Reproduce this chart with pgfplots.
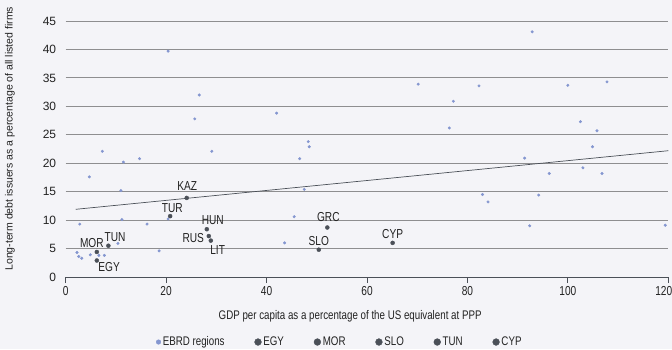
\documentclass[border=0pt]{standalone}
\usepackage{fontspec}
\setmainfont{Liberation Sans}
\newfontfamily\narrowfont{Liberation Sans}[FakeStretch=0.78]
\usepackage{pgfplots}
\pgfplotsset{compat=1.18}

\definecolor{bg}{HTML}{F4F4F8}
\definecolor{ebrd}{HTML}{8496D0}
\definecolor{dark}{HTML}{4B5058}
\definecolor{gridc}{HTML}{8E8E90}
\definecolor{txt}{HTML}{222222}

\pgfplotsset{
  ebrdpt/.style={only marks, mark=*, mark size=1.3pt, color=ebrd, forget plot},
  darkpt/.style={only marks, mark=*, mark size=2pt, color=dark, forget plot,
    nodes near coords, point meta=explicit symbolic,
    every node near coord/.append style={font=\narrowfont\fontsize{13}{14}\selectfont,
      text=txt, inner sep=0pt}},
}

\begin{document}
\begin{tikzpicture}
\fill[bg] (-65.7pt,-72pt) rectangle (606.3pt,277pt);
\begin{axis}[
  at={(0,0)}, anchor=south west,
  width=602.6pt, height=256pt, scale only axis,
  xmin=0, xmax=120, ymin=0, ymax=45,
  xtick={0,20,...,120}, ytick={0,5,...,45},
  xticklabels={0,20,40,60,80,100,{\kern-9pt 120}},
  axis lines*=left,
  x axis line style={-, draw=dark, line width=0.8pt},
  y axis line style={draw=none},
  tick align=outside, major tick length=6pt,
  xtick style={draw=dark, line width=0.8pt},
  ytick style={draw=none},
  ymajorgrids, grid style={draw=gridc, line width=0.8pt},
  /pgf/number format/assume math mode=true,
  tick label style={font=\fontsize{12}{14}\selectfont, text=txt},
  xticklabel style={font=\narrowfont\fontsize{13}{14}\selectfont},
  xlabel={GDP per capita as a percentage of the US equivalent at PPP},
  xlabel style={at={(axis description cs:0.472,-0.152)}, anchor=center,
    font=\narrowfont\fontsize{12.5}{14}\selectfont, text=txt},
  ylabel={Long-term debt issuers as a percentage of all listed firms},
  ylabel style={at={(axis description cs:-0.0924,0.54)}, anchor=center,
    font=\fontsize{10.5}{12}\selectfont, text=txt},
  clip=false,
  legend columns=6,
  legend style={at={(axis description cs:0.455,-0.254)}, anchor=center,
    draw=none, fill=none, font=\narrowfont\fontsize{12.5}{14}\selectfont,
    text=txt, inner sep=0pt,
    /tikz/every even column/.append style={column sep=28pt}},
  legend image code/.code={\draw[#1] plot coordinates {(0pt,0pt)};},
]
\addlegendimage{only marks, mark=*, mark size=2.3pt, color=ebrd}
\addlegendentry{EBRD regions}
\addlegendimage{only marks, mark=*, mark size=3.4pt, color=dark}
\addlegendentry{EGY}
\addlegendimage{only marks, mark=*, mark size=3.4pt, color=dark}
\addlegendentry{MOR}
\addlegendimage{only marks, mark=*, mark size=3.4pt, color=dark}
\addlegendentry{SLO}
\addlegendimage{only marks, mark=*, mark size=3.4pt, color=dark}
\addlegendentry{TUN}
\addlegendimage{only marks, mark=*, mark size=3.4pt, color=dark}
\addlegendentry{CYP}

% fitted trend
\addplot[draw=dark, line width=0.7pt, forget plot] coordinates {(2,11.9) (120,22.2)};

% EBRD regions
\addplot[ebrdpt] coordinates {
 (4.7,17.6) (7.3,22.1) (11.5,20.2) (14.7,20.8) (20.4,39.7) (25.7,27.8)
 (26.6,32.0) (29.1,22.1) (42.0,28.8) (46.6,20.8) (48.3,23.8) (48.5,22.9)
 (92.9,43.1) (70.2,33.9) (82.3,33.6) (100.0,33.7) (107.8,34.3) (77.2,30.9)
 (76.4,26.2) (102.5,27.3) (105.8,25.7) (104.9,22.9) (91.4,20.9) (96.3,18.2)
 (103.0,19.2) (106.8,18.2) (11.0,15.2) (2.8,9.3) (11.2,10.1) (16.2,9.3)
 (20.4,10.2) (18.6,4.6) (10.4,5.9) (2.25,4.3) (2.6,3.6) (3.2,3.3)
 (4.9,3.9) (6.6,3.8) (7.7,3.8) (47.5,15.4) (45.5,10.6) (43.6,6.0)
 (83.0,14.5) (84.1,13.2) (94.2,14.4) (92.4,9.0) (119.4,9.1)
};

% labelled countries
\addplot[darkpt, every node near coord/.append style={anchor=base, xshift=0.6pt, yshift=7pt}]
  coordinates {(24.1,13.9) [KAZ]};
\addplot[darkpt, every node near coord/.append style={anchor=base, xshift=2.2pt, yshift=4pt}]
  coordinates {(20.8,10.7) [TUR]};
\addplot[darkpt, every node near coord/.append style={anchor=base, xshift=6pt, yshift=4.5pt}]
  coordinates {(28.1,8.4) [HUN]};
\addplot[darkpt, every node near coord/.append style={anchor=base east, xshift=-4.7pt, yshift=-6pt}]
  coordinates {(28.5,7.2) [RUS]};
\addplot[darkpt, every node near coord/.append style={anchor=base west, xshift=-0.7pt, yshift=-13.6pt}]
  coordinates {(28.9,6.4) [LIT]};
\addplot[darkpt, every node near coord/.append style={anchor=base, xshift=1pt, yshift=5.6pt}]
  coordinates {(52.1,8.7) [GRC]};
\addplot[darkpt, every node near coord/.append style={anchor=base, yshift=4.4pt}]
  coordinates {(50.4,4.8) [SLO]};
\addplot[darkpt, every node near coord/.append style={anchor=base, xshift=6.7pt, yshift=4.4pt}]
  coordinates {(8.5,5.5) [TUN]};
\addplot[darkpt, every node near coord/.append style={anchor=base, xshift=-5pt, yshift=4pt}]
  coordinates {(6.2,4.4) [MOR]};
\addplot[darkpt, every node near coord/.append style={anchor=base, xshift=12.3pt, yshift=-11pt}]
  coordinates {(6.2,2.9) [EGY]};
\addplot[darkpt, every node near coord/.append style={anchor=base, yshift=4.4pt}]
  coordinates {(65.1,6.0) [CYP]};
\end{axis}
\pgfresetboundingbox
\useasboundingbox (-65.7pt,-72pt) rectangle (606.3pt,277pt);
\end{tikzpicture}
\end{document}
